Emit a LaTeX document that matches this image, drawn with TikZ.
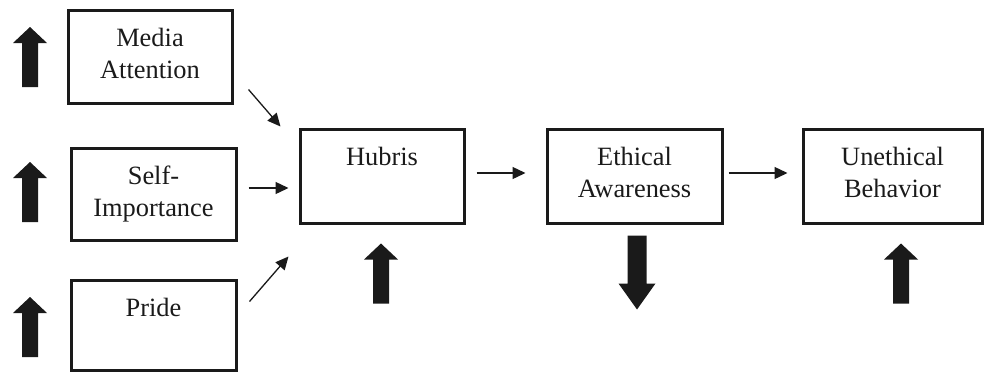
\documentclass[tikz,border=0pt]{standalone}
\usepackage{fontspec}
\setmainfont{Liberation Serif}
\usetikzlibrary{positioning, arrows.meta}
\definecolor{ink}{HTML}{1A1A1A}

\tikzset{
  box/.style={draw=ink, line width=1.5pt, rectangle, inner sep=0pt},
  boxtext/.style={align=center, inner sep=0pt, text=ink, font=\fontsize{13.2}{16}\selectfont},
  flow/.style={draw=ink, line width=0.65pt, -{Triangle[length=6.5pt,width=6pt]}},
  fat up/.pic={\fill[ink] (-8,0) -- (-8,-44) -- (-17,-44) -- (0,-60) -- (17,-44) -- (8,-44) -- (8,0) -- cycle;},
  fat down/.pic={\fill[ink] (-9.5,0) -- (-9.5,48) -- (-18.5,48) -- (0,74) -- (18.5,48) -- (9.5,48) -- (9.5,0) -- cycle;}
}

\begin{document}
\begin{tikzpicture}[x=0.5pt, y=-0.5pt]
\useasboundingbox (0,0) rectangle (985,376);

% drivers
\node[box, minimum width=82pt, minimum height=46.5pt] (media) at (150,56.5) {};
\node[box, minimum width=82.5pt, minimum height=46pt] (self) at (153.5,194) {};
\node[box, minimum width=82.5pt, minimum height=45pt] (pride) at (153.5,325) {};

% chain
\node[box, minimum width=82pt, minimum height=47pt] (hubris) at (382,176) {};
\node[box, minimum width=87.5pt, minimum height=47pt] (ethical) at (634.5,176) {};
\node[box, minimum width=89.5pt, minimum height=47pt] (unethical) at (892.5,176) {};

\node[boxtext, below=9.5pt of media.north] (mediatxt) {Media\\Attention};
\node[boxtext, below=9.5pt of self.north] (selftxt) {Self-\\Importance};
\node[boxtext, below=9.5pt of pride.north] (pridetxt) {Pride};
\node[boxtext, below=9.5pt of hubris.north] (hubristxt) {Hubris};
\node[boxtext, below=9.5pt of ethical.north] (ethicaltxt) {Ethical\\Awareness};
\node[boxtext, below=9.5pt of unethical.north] (unethicaltxt) {Unethical\\Behavior};

% thin arrows
\draw[flow] ([shift={(15,-15)}]media.south east) -- ([shift={(-18,-1)}]hubris.north west);
\draw[flow] ([shift={(11,-6)}]self.east) -- ([shift={(-10,12)}]hubris.west);
\draw[flow] ([shift={(12,23)}]pride.north east) -- ([shift={(-10,32)}]hubris.south west);
\draw[flow] ([shift={(11,-3)}]hubris.east) -- ([shift={(-20,-3)}]ethical.west);
\draw[flow] ([shift={(5,-3)}]ethical.east) -- ([shift={(-14,-3)}]unethical.west);

% big arrows
\pic at (30,87) {fat up};
\pic at (30,222) {fat up};
\pic at (30,357) {fat up};
\pic at ([shift={(-1,79)}]hubris.south) {fat up};
\pic at ([shift={(2.5,11)}]ethical.south) {fat down};
\pic at ([shift={(8.5,79)}]unethical.south) {fat up};

\end{tikzpicture}
\end{document}
